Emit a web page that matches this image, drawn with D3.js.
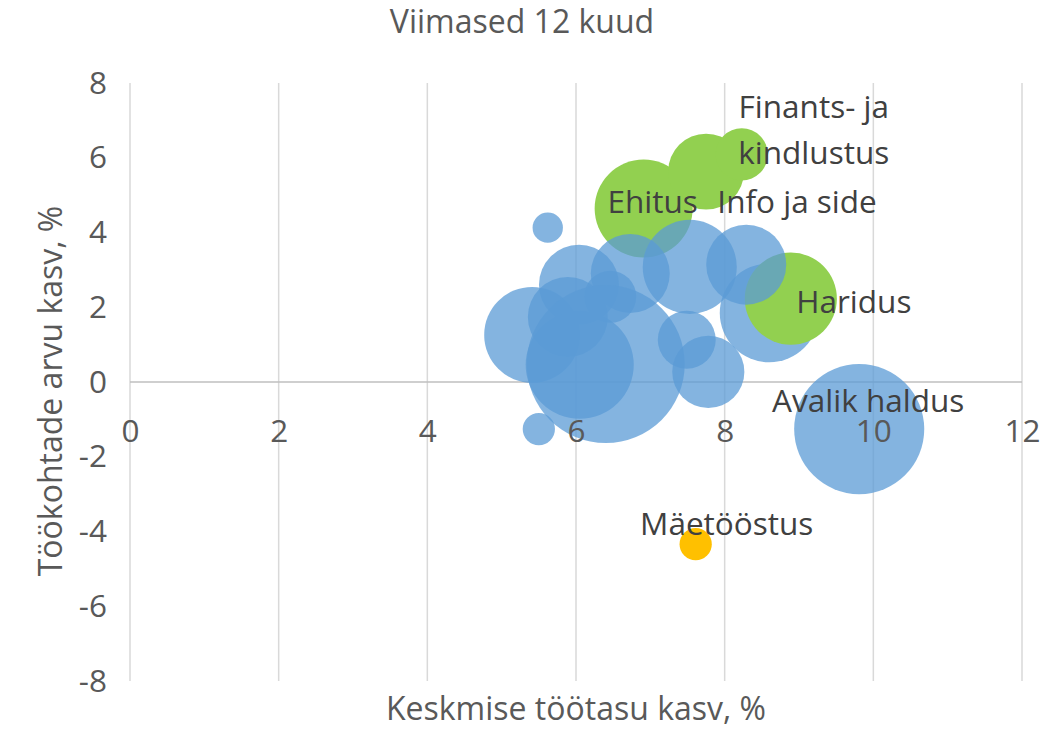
<!DOCTYPE html>
<html>
<head>
<meta charset="utf-8">
<script src="https://cdn.jsdelivr.net/npm/d3@7"></script>
<style>
  html, body { margin: 0; padding: 0; background: #fff; }
  svg { display: block; font-family: "Open Sans", sans-serif; }
</style>
</head>
<body>
<svg id="chart" width="1046" height="729"></svg>
<script>
// ---- data ----
const names   = ["", "", "Ehitus", "Info ja side", "Finants- ja kindlustus", "Haridus", "", "", "", "", "", "", "", "", "", "", "", "", "Avalik haldus", "Mäetööstus"];
const wageGrowth = [8.60, 5.62, 6.91, 7.75, 8.23, 8.89, 8.29, 7.53, 6.73, 6.46, 6.04, 5.89, 5.41, 6.05, 6.40, 7.49, 7.78, 5.50, 9.81, 7.61];
const jobGrowth  = [1.85, 4.13, 4.64, 5.63, 6.09, 2.23, 3.14, 3.08, 2.90, 2.28, 2.60, 1.74, 1.26, 0.46, 0.48, 1.13, 0.27, -1.26, -1.26, -4.34];
const bubbleSize = [24.5, 2.3, 24.0, 14.4, 6.8, 21.2, 16.0, 22.1, 15.6, 6.8, 16.0, 16.0, 23.0, 29.2, 62.4, 8.4, 13.0, 2.6, 42.3, 2.6];
const group      = ["other", "other", "up", "up", "up", "up", "other", "other", "other", "other", "other", "other", "other", "other", "other", "other", "other", "other", "other", "down"];
const xTicks = [0, 2, 4, 6, 8, 10, 12];
const yTicks = [-8, -6, -4, -2, 0, 2, 4, 6, 8];
const title = "Viimased 12 kuud";
const xTitle = "Keskmise töötasu kasv, %";
const yTitle = "Töökohtade arvu kasv, %";

// ---- layout / style ----
const colors = { other: "rgba(91,155,213,0.75)", up: "#92D050", down: "#FFC000" };
// label offsets (px) relative to bubble centre: [dx, dy of first baseline]
const labelOffsets = {
  "Ehitus": [9, 4],
  "Info ja side": [91, 41],
  "Finants- ja kindlustus": [72, -36],
  "Haridus": [63, 14],
  "Avalik haldus": [9, -17],
  "Mäetööstus": [31, -9]
};
const labelLines = { "Finants- ja kindlustus": ["Finants- ja", "kindlustus"] };

const svg = d3.select("#chart");
const x = d3.scaleLinear().domain([0, 12]).range([130, 1022]);
const y = d3.scaleLinear().domain([-8, 8]).range([681, 83]);
const r = d3.scaleSqrt().domain([0, d3.max(bubbleSize)]).range([0, 79]);

const fs = 31.5;
const titleFs = 32;
const gridColor = "#d9d9d9";

// gridlines (vertical)
svg.append("g").selectAll("line").data(xTicks).join("line")
  .attr("x1", d => x(d)).attr("x2", d => x(d))
  .attr("y1", y(8)).attr("y2", y(-8))
  .attr("stroke", gridColor).attr("stroke-width", 1.5);
// horizontal axis line at y = 0
svg.append("line")
  .attr("x1", x(0)).attr("x2", x(12)).attr("y1", y(0)).attr("y2", y(0))
  .attr("stroke", "#bfbfbf").attr("stroke-width", 1.5);

// bubbles
const data = wageGrowth.map((w, i) => ({ x: w, y: jobGrowth[i], s: bubbleSize[i], g: group[i], name: names[i] }));
svg.append("g").selectAll("circle").data(data).join("circle")
  .attr("cx", d => x(d.x)).attr("cy", d => y(d.y)).attr("r", d => r(d.s))
  .attr("fill", d => colors[d.g]);

// axes
const xAxis = svg.append("g").attr("transform", `translate(0,${y(0)})`)
  .call(d3.axisBottom(x).tickValues(xTicks).tickSize(0).tickPadding(38).tickFormat(d3.format("d")));
const yAxis = svg.append("g").attr("transform", `translate(${x(0)},0)`)
  .call(d3.axisLeft(y).tickValues(yTicks).tickSize(0).tickPadding(23).tickFormat(d => d < 0 ? "-" + Math.abs(d) : d));
[xAxis, yAxis].forEach(a => {
  a.select(".domain").remove();
  a.selectAll("text").attr("font-family", "Open Sans, sans-serif").attr("font-size", fs).attr("fill", "#595959");
});

// data labels
const lab = svg.append("g").attr("font-size", fs).attr("fill", "#404040").attr("text-anchor", "middle");
data.filter(d => d.name).forEach(d => {
  const off = labelOffsets[d.name];
  const lines = labelLines[d.name] || [d.name];
  const t = lab.append("text").attr("x", x(d.x) + off[0]).attr("y", y(d.y) + off[1]);
  lines.forEach((ln, k) => {
    t.append("tspan").attr("x", x(d.x) + off[0]).attr("dy", k === 0 ? 0 : 46).text(ln);
  });
});

// titles
svg.append("text").attr("x", 522).attr("y", 33).attr("text-anchor", "middle")
  .attr("font-size", titleFs).attr("fill", "#595959").text(title);
svg.append("text").attr("x", 576).attr("y", 720).attr("text-anchor", "middle")
  .attr("font-size", titleFs).attr("fill", "#595959").text(xTitle);
svg.append("text").attr("transform", "translate(62,391) rotate(-90)").attr("text-anchor", "middle")
  .attr("font-size", titleFs).attr("fill", "#595959").text(yTitle);
</script>
</body>
</html>
